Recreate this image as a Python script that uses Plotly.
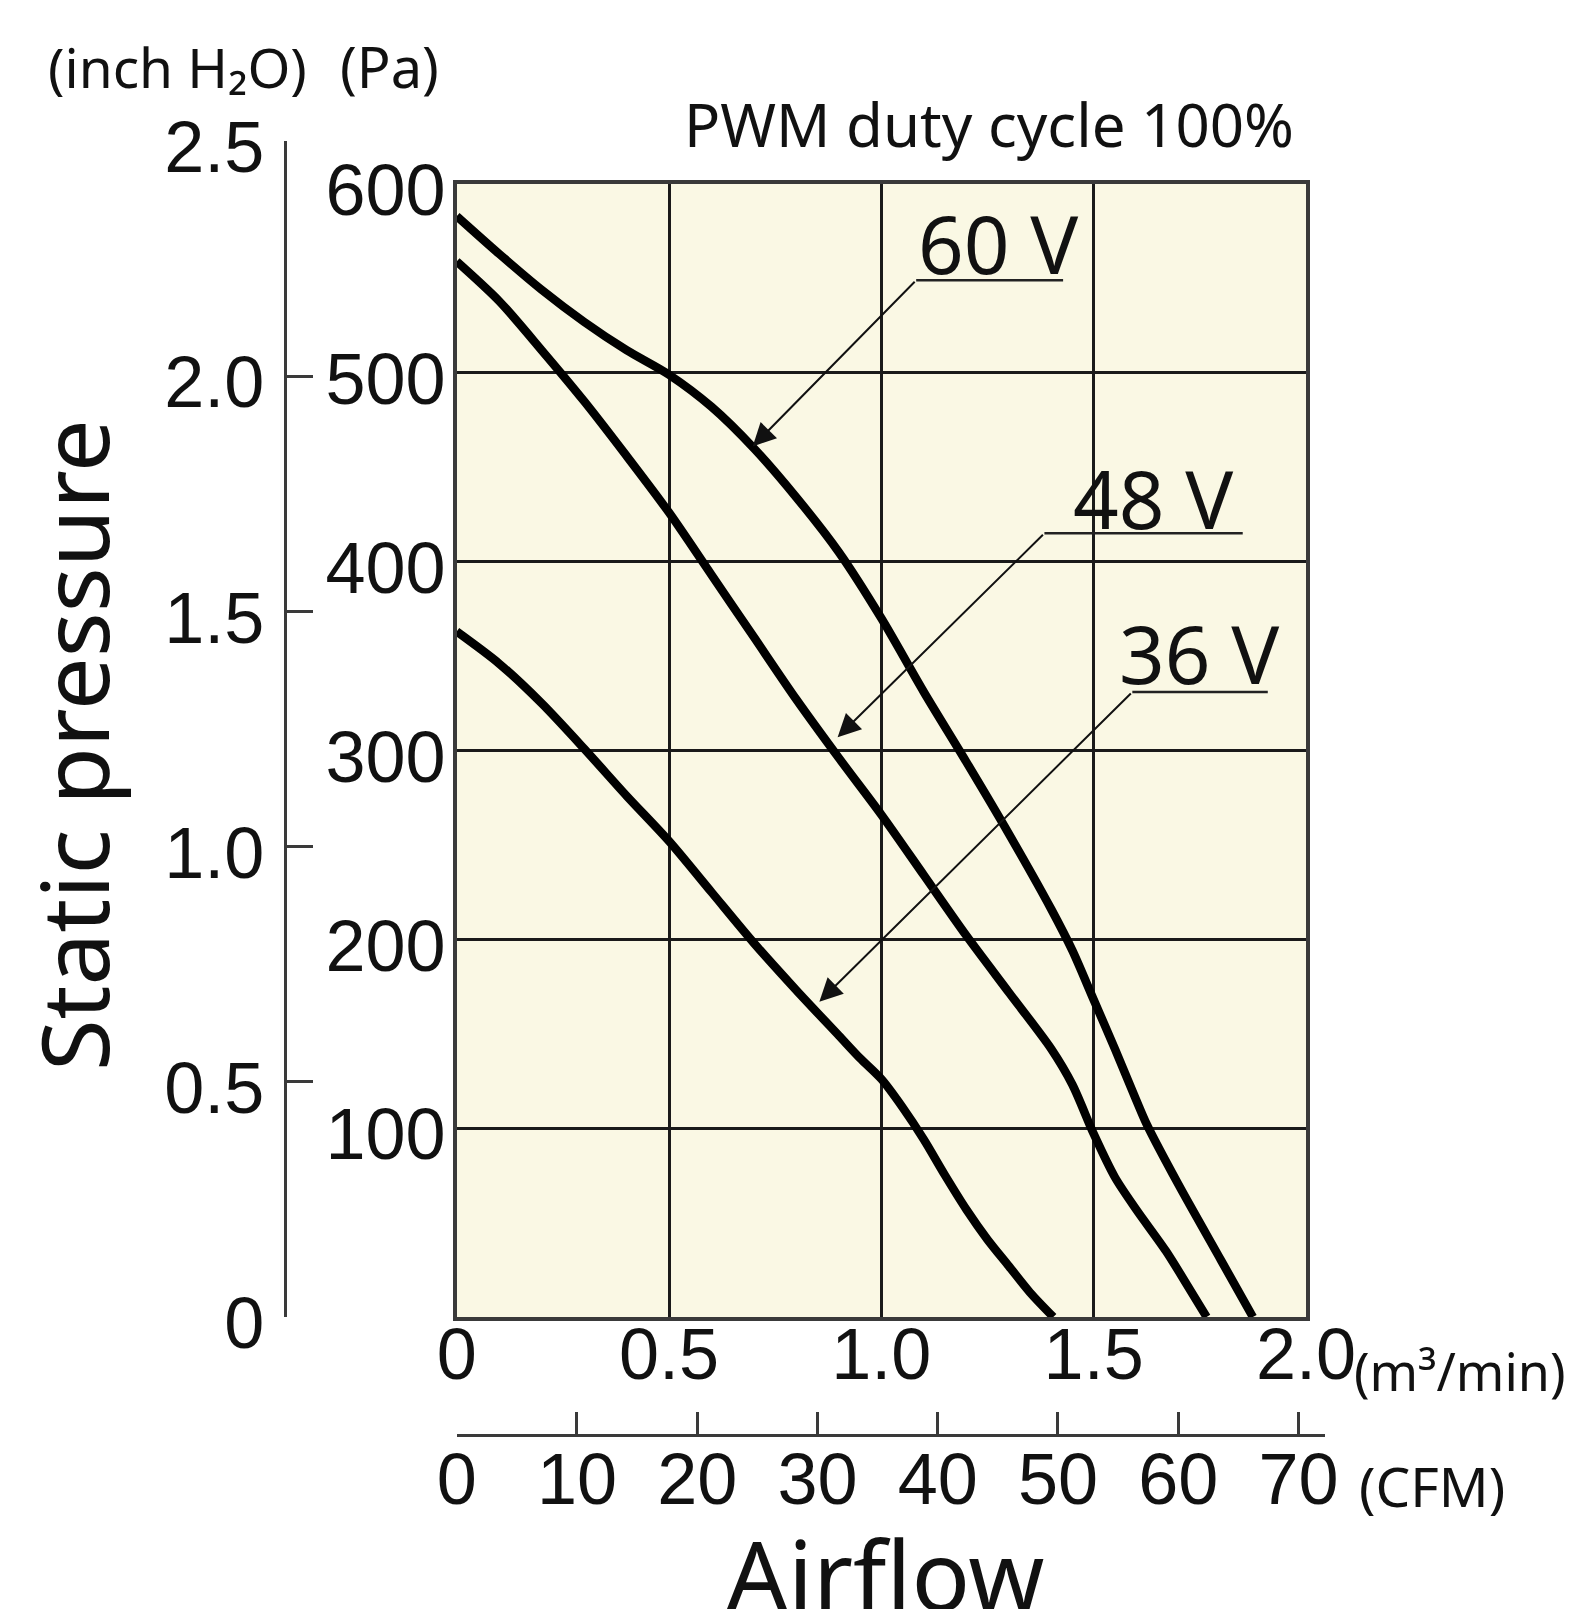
import plotly.graph_objects as go

# ---------------- data ----------------
flow_60v = [0, 0.1, 0.2, 0.3, 0.4, 0.5, 0.6, 0.7, 0.8, 0.9, 1.0, 1.1, 1.2, 1.3,
            1.4, 1.45, 1.5, 1.55, 1.6, 1.625, 1.7, 1.8, 1.875]
pres_60v = [583, 563, 544, 527, 512, 499, 482, 460, 434, 405, 370, 331, 294, 256,
            216, 194, 168, 142, 115, 102, 70, 30, 0]

flow_48v = [0, 0.1, 0.2, 0.3, 0.4, 0.5, 0.6, 0.7, 0.8, 0.9, 1.0, 1.1, 1.2, 1.3,
            1.4, 1.45, 1.5, 1.55, 1.6, 1.67, 1.72, 1.766]
pres_48v = [559, 538, 512, 485, 456, 426, 393, 360, 327, 296, 266, 234, 202, 172,
            142, 123, 97, 74, 57, 35, 17, 0]

flow_36v = [0, 0.1, 0.2, 0.3, 0.4, 0.5, 0.6, 0.7, 0.8, 0.9, 0.95, 1.0, 1.05, 1.1,
            1.15, 1.2, 1.25, 1.3, 1.35, 1.405]
pres_36v = [363, 346, 325, 301, 276, 252, 225, 198, 173, 149, 137, 126, 111, 94,
            75, 57, 41, 27, 13, 0]

m3_ticks = [0, 0.5, 1.0, 1.5, 2.0]
m3_labels = ["0", "0.5", "1.0", "1.5", "2.0"]
pa_ticks = [100, 200, 300, 400, 500, 600]
pa_labels = ["100", "200", "300", "400", "500", "600"]
inch_ticks = [0, 0.5, 1.0, 1.5, 2.0, 2.5]
inch_labels = ["0", "0.5", "1.0", "1.5", "2.0", "2.5"]
cfm_ticks = [0, 10, 20, 30, 40, 50, 60, 70]
cfm_labels = ["0", "10", "20", "30", "40", "50", "60", "70"]

PA_PER_INCH_H2O = 249.089
M3MIN_PER_CFM = 0.0283168

# label annotations: name, arrow tip (flow, Pa), elbow (flow, Pa), underline end flow, text centre (flow, Pa)
labels = [
    ("60 V", (0.697, 461), (1.082, 549), 1.428, (1.274, 569)),
    ("48 V", (0.897, 307), (1.384, 415), 1.851, (1.639, 434)),
    ("36 V", (0.854, 167), (1.591, 331), 1.910, (1.747, 352)),
]

# ---------------- page geometry (page pixels) ----------------
PAGE_W, PAGE_H = 1579, 1617
OFF = 8                      # default body margin of the html page
W, H = PAGE_W - 2 * OFF, PAGE_H - 2 * OFF
PX_L, PX_R = 456.7, 1306.0
PY_T, PY_B = 184.0, 1317.0
INCH_X = 284.5
CFM_Y = 1435.0
CFM_R = 1325.0

def fx(px):
    return (px - OFF) / W

def fy(py):
    return 1 - (py - OFF) / H

px_per_pa = (PY_B - PY_T) / 600.0
px_per_m3 = (PX_R - PX_L) / 2.0
inch_top_py = PY_B - 2.5 * PA_PER_INCH_H2O * px_per_pa
cfm_max = (CFM_R - PX_L) / (px_per_m3 * M3MIN_PER_CFM)

TICKFONT = dict(family="Liberation Sans, Arial, sans-serif", size=72, color="#111111")
TEXTFONT = "Noto Sans, Open Sans, Arial, sans-serif"
GRID = "#1a1a1a"
FRAME = "#3a3a3a"

fig = go.Figure()

for name, xs, ys in [("60 V", flow_60v, pres_60v), ("48 V", flow_48v, pres_48v),
                     ("36 V", flow_36v, pres_36v)]:
    fig.add_trace(go.Scatter(x=xs, y=ys, mode="lines", name=name,
                             line=dict(color="#000000", width=8.5, shape="spline", smoothing=0.8),
                             showlegend=False, hoverinfo="skip"))

# dummy trace so the secondary (inch / CFM) axes are drawn
fig.add_trace(go.Scatter(x=[None], y=[None], xaxis="x2", yaxis="y2",
                         showlegend=False, hoverinfo="skip"))

shapes = [
    dict(type="rect", xref="x domain", yref="y domain", x0=0, x1=1, y0=0, y1=1,
         fillcolor="#FAF8E4", line=dict(width=0), layer="below"),
]
annotations = []

for text, tip, elbow, ul_end, tc in labels:
    shapes.append(dict(type="line", xref="x", yref="y", x0=elbow[0], x1=ul_end,
                       y0=elbow[1], y1=elbow[1], line=dict(color="#222222", width=2.5)))
    annotations.append(dict(x=tip[0], y=tip[1], ax=elbow[0], ay=elbow[1],
                            xref="x", yref="y", axref="x", ayref="y", text="",
                            showarrow=True, arrowhead=2, arrowsize=2.3, arrowwidth=2,
                            arrowcolor="#111111", standoff=0))
    annotations.append(dict(x=tc[0], y=tc[1], xref="x", yref="y", text=text,
                            showarrow=False, xanchor="center", yanchor="middle",
                            font=dict(family=TEXTFONT, size=80, color="#111111")))

annotations += [
    dict(x=fx(73), y=fy(745), xref="paper", yref="paper", text="Static pressure",
         textangle=-90, showarrow=False, xanchor="center", yanchor="middle",
         font=dict(family=TEXTFONT, size=94, color="#111111")),
    dict(x=fx(884.6), y=fy(1573), xref="paper", yref="paper", text="Airflow",
         showarrow=False, xanchor="center", yanchor="middle",
         font=dict(family=TEXTFONT, size=97, color="#111111")),
    dict(x=fx(1296), y=fy(124), xref="paper", yref="paper", text="PWM duty cycle 100%",
         showarrow=False, xanchor="right", yanchor="middle",
         font=dict(family=TEXTFONT, size=60, color="#111111")),
    dict(x=fx(177), y=fy(66), xref="paper", yref="paper", text="(inch H₂O)",
         showarrow=False, xanchor="center", yanchor="middle",
         font=dict(family=TEXTFONT, size=55, color="#111111")),
    dict(x=fx(389), y=fy(66), xref="paper", yref="paper", text="(Pa)",
         showarrow=False, xanchor="center", yanchor="middle",
         font=dict(family=TEXTFONT, size=56, color="#111111")),
    dict(x=fx(1352), y=fy(1370), xref="paper", yref="paper", text="(m³/min)",
         showarrow=False, xanchor="left", yanchor="middle",
         font=dict(family=TEXTFONT, size=52, color="#111111")),
    dict(x=fx(1357), y=fy(1485), xref="paper", yref="paper", text="(CFM)",
         showarrow=False, xanchor="left", yanchor="middle",
         font=dict(family=TEXTFONT, size=55, color="#111111")),
]

common = dict(automargin=False, fixedrange=True, zeroline=False, tickfont=TICKFONT)

fig.update_layout(
    width=W, height=H, autosize=False,
    margin=dict(l=0, r=0, t=0, b=0, pad=0, autoexpand=False),
    paper_bgcolor="white", plot_bgcolor="rgba(0,0,0,0)",
    showlegend=False,
    shapes=shapes, annotations=annotations,
    xaxis=dict(domain=[fx(PX_L), fx(PX_R)], range=[0, 2], anchor="y",
               tickvals=m3_ticks, ticktext=m3_labels,
               ticks="", ticklabelstandoff=-28,
               showgrid=True, gridcolor=GRID, gridwidth=2.5,
               showline=True, mirror=True, linecolor=FRAME, linewidth=3.5, **common),
    yaxis=dict(domain=[fy(PY_B), fy(PY_T)], range=[0, 600], anchor="x",
               tickvals=pa_ticks, ticktext=pa_labels,
               ticks="", ticklabelstandoff=-7, ticklabelshift=6,
               showgrid=True, gridcolor=GRID, gridwidth=2.5,
               showline=True, mirror=True, linecolor=FRAME, linewidth=3.5, **common),
    xaxis2=dict(domain=[fx(PX_L), fx(CFM_R)], range=[0, cfm_max], anchor="free",
                position=fy(CFM_Y), side="bottom",
                tickvals=cfm_ticks, ticktext=cfm_labels,
                ticks="inside", ticklen=22, tickwidth=2.5, tickcolor=FRAME,
                ticklabelstandoff=-19,
                showgrid=False, showline=True, linecolor=FRAME, linewidth=2.5, **common),
    yaxis2=dict(domain=[fy(PY_B), fy(inch_top_py)], range=[0, 2.5], anchor="free",
                position=fx(INCH_X), side="left",
                tickvals=inch_ticks, ticktext=inch_labels,
                ticks="inside", ticklen=27, tickwidth=2.5, tickcolor=FRAME,
                ticklabelstandoff=5, ticklabelshift=6,
                showgrid=False, showline=True, linecolor=FRAME, linewidth=2.5, **common),
)

fig.write_html("out.html")
